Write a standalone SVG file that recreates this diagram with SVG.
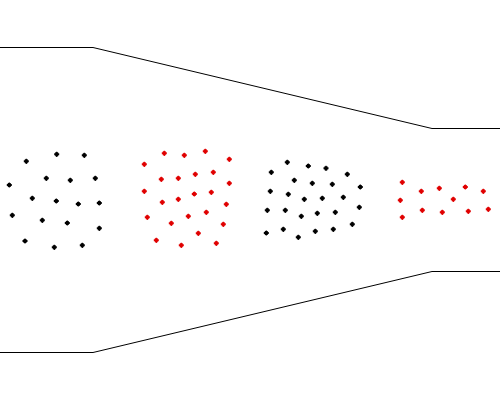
<svg xmlns="http://www.w3.org/2000/svg" xmlns:xlink="http://www.w3.org/1999/xlink" width="500" height="400" viewBox="0 0 500 400">
<style>
.wall{fill:none;stroke:#000;stroke-width:1}
.k{fill:#000}
.r{fill:#e00000}
</style>
<defs>
<path id="d" d="M-2.5,-1 h5 v2 h-5z M-1.5,-2 h3 v4 h-3z M-0.6,-2.6 h1.2 v5.2 h-1.2z"/>
</defs>
<rect width="500" height="400" fill="#fff"/>
<g id="walls">
<polyline class="wall" points="0,47.5 93,47.5 432,128.5 500,128.5"/>
<polyline class="wall" points="0,352.5 93,352.5 432,271.5 500,271.5"/>
</g>
<g id="group1" class="k">
<use xlink:href="#d" x="56.7" y="154.3"/><use xlink:href="#d" x="84.3" y="155.3"/><use xlink:href="#d" x="26.3" y="161.3"/>
<use xlink:href="#d" x="46.3" y="178.3"/><use xlink:href="#d" x="70.3" y="180.3"/><use xlink:href="#d" x="95.3" y="178.3"/>
<use xlink:href="#d" x="9.3" y="185"/><use xlink:href="#d" x="32.3" y="198.3"/><use xlink:href="#d" x="56.3" y="201"/>
<use xlink:href="#d" x="78.3" y="204"/><use xlink:href="#d" x="99.3" y="203"/><use xlink:href="#d" x="12.3" y="215.3"/>
<use xlink:href="#d" x="42.3" y="220.3"/><use xlink:href="#d" x="67.3" y="223"/><use xlink:href="#d" x="99.3" y="228.3"/>
<use xlink:href="#d" x="25" y="241"/><use xlink:href="#d" x="54.3" y="247.3"/><use xlink:href="#d" x="82.3" y="245.3"/>
</g>
<g id="group2" class="r">
<use xlink:href="#d" x="164.3" y="153.3"/><use xlink:href="#d" x="184.3" y="155.3"/><use xlink:href="#d" x="205.3" y="151.3"/>
<use xlink:href="#d" x="144.3" y="164.3"/><use xlink:href="#d" x="229.3" y="159.3"/><use xlink:href="#d" x="161.3" y="179.3"/>
<use xlink:href="#d" x="178.3" y="178.3"/><use xlink:href="#d" x="195.3" y="174.3"/><use xlink:href="#d" x="213.3" y="172.3"/>
<use xlink:href="#d" x="229.3" y="183.3"/><use xlink:href="#d" x="144.3" y="191.3"/><use xlink:href="#d" x="162.3" y="202.3"/>
<use xlink:href="#d" x="178.3" y="199.3"/><use xlink:href="#d" x="194.3" y="194"/><use xlink:href="#d" x="211.3" y="192.3"/>
<use xlink:href="#d" x="226.3" y="204.3"/><use xlink:href="#d" x="147.3" y="217.3"/><use xlink:href="#d" x="171.3" y="223.3"/>
<use xlink:href="#d" x="188.3" y="216.3"/><use xlink:href="#d" x="206.3" y="212.3"/><use xlink:href="#d" x="223.3" y="224.3"/>
<use xlink:href="#d" x="156.3" y="240.3"/><use xlink:href="#d" x="181.3" y="245.3"/><use xlink:href="#d" x="198.3" y="233.3"/>
<use xlink:href="#d" x="216.3" y="243.3"/>
</g>
<g id="group3" class="k">
<use xlink:href="#d" x="287.3" y="162.3"/><use xlink:href="#d" x="308.3" y="166"/><use xlink:href="#d" x="326" y="168.3"/>
<use xlink:href="#d" x="271.3" y="172.3"/><use xlink:href="#d" x="347.3" y="174.3"/><use xlink:href="#d" x="294.3" y="180.3"/>
<use xlink:href="#d" x="312.3" y="183.3"/><use xlink:href="#d" x="332.3" y="184.3"/><use xlink:href="#d" x="360.3" y="187"/>
<use xlink:href="#d" x="270.3" y="191.3"/><use xlink:href="#d" x="288.3" y="194.3"/><use xlink:href="#d" x="304.3" y="199.3"/>
<use xlink:href="#d" x="322.3" y="198.3"/><use xlink:href="#d" x="343.3" y="197.3"/><use xlink:href="#d" x="267.3" y="210.3"/>
<use xlink:href="#d" x="285.3" y="210.3"/><use xlink:href="#d" x="301.3" y="216.3"/><use xlink:href="#d" x="317.3" y="213.3"/>
<use xlink:href="#d" x="335.3" y="212.3"/><use xlink:href="#d" x="359.3" y="207.3"/><use xlink:href="#d" x="266.3" y="233"/>
<use xlink:href="#d" x="283.3" y="229.3"/><use xlink:href="#d" x="298.3" y="237.3"/><use xlink:href="#d" x="315.3" y="231.3"/>
<use xlink:href="#d" x="333.3" y="229.3"/><use xlink:href="#d" x="352.3" y="224.3"/>
</g>
<g id="group4" class="r">
<use xlink:href="#d" x="402.3" y="182.3"/><use xlink:href="#d" x="421.3" y="191.3"/><use xlink:href="#d" x="439.3" y="188.3"/>
<use xlink:href="#d" x="465.3" y="187"/><use xlink:href="#d" x="483.3" y="191.3"/><use xlink:href="#d" x="400.3" y="200.3"/>
<use xlink:href="#d" x="453.3" y="199.3"/><use xlink:href="#d" x="422.3" y="210.3"/><use xlink:href="#d" x="442.3" y="212.3"/>
<use xlink:href="#d" x="468.3" y="211.3"/><use xlink:href="#d" x="488.3" y="209.3"/><use xlink:href="#d" x="402.3" y="217.3"/>
</g>
</svg>
